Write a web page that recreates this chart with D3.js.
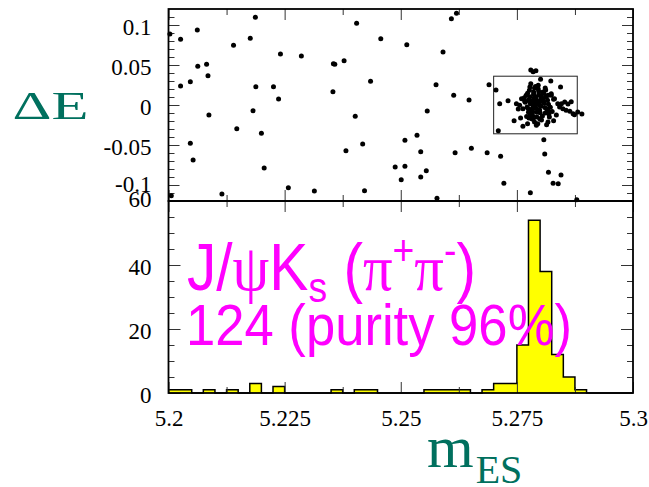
<!DOCTYPE html>
<html>
<head>
<meta charset="utf-8">
<script src="https://cdn.jsdelivr.net/npm/d3@7"></script>
<style>
  html, body { margin: 0; padding: 0; background: #fff; }
  svg { display: block; }
</style>
</head>
<body>
<svg id="chart" width="649" height="487"></svg>
<script>
// ---- Data -----------------------------------------------------------------
// Candidates spread over the whole (mES, ΔE) plane: [mES (GeV), ΔE (GeV)]
const sidebandEvents = [
  [5.2187, 0.1096], [5.2062, 0.0938], [5.2003, 0.0888], [5.2026, 0.0821], [5.2176, 0.0834],
  [5.2140, 0.0746], [5.2241, 0.0638], [5.2286, 0.0613], [5.2063, 0.0484], [5.2082, 0.0509],
  [5.2085, 0.0366], [5.2026, 0.0238], [5.2047, 0.0291], [5.2188, 0.0229], [5.2226, 0.0229],
  [5.2237, 0.0075], [5.2182, -0.0071], [5.2087, -0.0125], [5.2147, -0.0296], [5.2200, -0.0354],
  [5.2047, -0.0479], [5.2053, -0.0688], [5.2206, -0.0788], [5.2258, -0.1034], [5.2314, -0.1075],
  [5.2006, -0.1134], [5.2115, -0.1113],
  [5.2620, 0.1146], [5.2609, 0.1079], [5.2405, 0.1021], [5.2457, 0.0829], [5.2513, 0.0754],
  [5.2591, 0.0663], [5.2355, 0.0516], [5.2358, 0.0509], [5.2378, 0.0554], [5.2435, 0.0296],
  [5.2354, 0.0166], [5.2576, 0.0254], [5.2690, 0.0254], [5.2614, 0.0121], [5.2647, 0.0063],
  [5.2557, -0.0075], [5.2402, -0.0141], [5.2535, -0.0379], [5.2509, -0.0441], [5.2418, -0.0488],
  [5.2382, -0.0571], [5.2543, -0.0584], [5.2617, -0.0596], [5.2652, -0.0541], [5.2686, -0.0596],
  [5.2488, -0.0775], [5.2509, -0.0766], [5.2555, -0.0821], [5.2501, -0.0934], [5.2543, -0.0900],
  [5.2422, -0.1071], [5.2578, -0.1166],
  [5.2780, 0.0438], [5.2785, 0.0416], [5.2791, 0.0429], [5.2705, 0.0188], [5.2713, 0.0016],
  [5.2731, 0.0054], [5.2801, 0.0321], [5.2823, 0.0300], [5.2844, 0.0225], [5.2867, 0.0041],
  [5.2890, -0.0113], [5.2710, -0.0321], [5.2808, -0.0434], [5.2810, -0.0613], [5.2715, -0.0641],
  [5.2818, -0.0841], [5.2845, -0.0875], [5.2828, -0.0979], [5.2839, -0.0984], [5.2722, -0.0979],
  [5.2779, -0.1096], [5.2879, -0.1184]
];

// Candidates in the B-signal peak
const peakEvents = [
  [5.2781, 0.0012], [5.2788, -0.0035], [5.2795, 0.0041], [5.2776, 0.0068], [5.2802, -0.0012],
  [5.2809, 0.0025], [5.2784, -0.0081], [5.2791, 0.0097], [5.2772, -0.0024], [5.2799, -0.0063],
  [5.2814, -0.0047], [5.2786, 0.0134], [5.2779, -0.0118], [5.2806, 0.0072], [5.2793, -0.0149],
  [5.2768, 0.0033], [5.2818, 0.0009], [5.2797, 0.0168], [5.2783, 0.0051], [5.2790, -0.0008],
  [5.2775, -0.0092], [5.2811, -0.0101], [5.2787, 0.0089], [5.2801, 0.0117], [5.2794, -0.0052],
  [5.2778, 0.0104], [5.2822, -0.0028], [5.2789, 0.0022], [5.2805, -0.0137], [5.2773, 0.0147],
  [5.2816, 0.0058], [5.2782, -0.0171], [5.2798, 0.0003], [5.2792, 0.0063], [5.2780, -0.0057],
  [5.2808, 0.0143], [5.2785, -0.0026], [5.2826, -0.0082], [5.2771, -0.0145], [5.2796, 0.0201],
  [5.2803, -0.0186], [5.2777, 0.0185], [5.2813, 0.0104], [5.2788, -0.0211], [5.2820, -0.0151],
  [5.2766, 0.0092], [5.2799, 0.0036], [5.2783, -0.0104], [5.2807, 0.0047], [5.2790, 0.0231],
  [5.2829, 0.0071], [5.2774, -0.0044], [5.2817, -0.0069], [5.2786, 0.0162], [5.2800, -0.0098],
  [5.2795, -0.0234], [5.2812, 0.0186], [5.2779, 0.0019], [5.2824, 0.0122], [5.2804, 0.0091],
  [5.2744, -0.0196], [5.2758, -0.0163], [5.2763, -0.0266], [5.2776, -0.0163], [5.2814, -0.0246],
  [5.2874, -0.0121], [5.2864, -0.0079], [5.2838, 0.0016], [5.2780, 0.0266], [5.2788, 0.0213],
  [5.2842, -0.0025], [5.2849, -0.0046], [5.2856, -0.0066], [5.2871, -0.0109],
  [5.2785, -0.0179], [5.2799, -0.0171], [5.2792, -0.0254], [5.2817, -0.0213], [5.2773, -0.0234],
  [5.2778, 0.0225], [5.2796, 0.0246], [5.2806, 0.0163], [5.2817, 0.0121], [5.2824, 0.0141],
  [5.2831, 0.0079], [5.2846, 0.0016], [5.2853, 0.0038], [5.2860, 0.0012],
  [5.2749, 0.0016], [5.2756, -0.0004], [5.2763, -0.0046], [5.2753, -0.0051], [5.2767, 0.0046],
  [5.2760, 0.0079], [5.2881, -0.0088], [5.2835, -0.0124], [5.2829, -0.0196], [5.2770, 0.0121],
  [5.2811, 0.0211], [5.2787, 0.0041], [5.2801, 0.0064], [5.2793, -0.0091], [5.2819, -0.0112],
  [5.2784, -0.0139], [5.2810, -0.0031], [5.2797, 0.0128], [5.2775, 0.0057]
];

// Signal-region box
const boxM  = [5.270, 5.288];
const boxDE = [-0.036, 0.036];

// mES projection: 40 bins of 2.5 MeV starting at 5.2 GeV
const binLow = 5.2;
const binWidth = 0.0025;
const binCounts = [
  1, 1, 0, 1, 0, 1, 0, 3, 0, 2,
  0, 0, 0, 0, 1, 0, 1, 1, 0, 0,
  0, 0, 1, 1, 1, 1, 0, 1, 3, 3,
  15, 54, 38, 12, 5, 1, 0, 0, 0, 0
];

// Axis ticks
const mMajor = [5.2, 5.225, 5.25, 5.275, 5.3];
const mTickLabels = ["5.2", "5.225", "5.25", "5.275", "5.3"];
const mMinor = [5.2125, 5.2375, 5.2625, 5.2875];
const deMajor = [-0.1, -0.05, 0, 0.05, 0.1];
const deTickLabels = ["-0.1", "-0.05", "0", "0.05", "0.1"];
const deMinor = [-0.11, -0.09, -0.08, -0.07, -0.06, -0.04, -0.03, -0.02, -0.01,
                 0.01, 0.02, 0.03, 0.04, 0.06, 0.07, 0.08, 0.09, 0.11];
const nMajor = [0, 20, 40, 60];
const nTickLabels = ["0", "20", "40", "60"];
const nMinor = [5, 10, 15, 25, 30, 35, 45, 50, 55];

// ---- Layout ---------------------------------------------------------------
const svg = d3.select("#chart");
const serif = "'Liberation Serif', 'Times New Roman', serif";
const sans = "'Liberation Sans', Arial, Helvetica, sans-serif";
const teal = "#00705e";

const x = d3.scaleLinear().domain([5.2, 5.3]).range([168.5, 633]);
const yDE = d3.scaleLinear().domain([-0.12, 0.12]).range([201, 9]);
const yN = d3.scaleLinear().domain([0, 60]).range([393, 201]);

const [xL, xR] = x.range();

// ---- Histogram ------------------------------------------------------------
const bins = binCounts.map((c, i) => ({ x0: binLow + i * binWidth, x1: binLow + (i + 1) * binWidth, n: c }));
const stepPts = [];
bins.forEach(b => { stepPts.push([b.x0, b.n]); stepPts.push([b.x1, b.n]); });

const area = d3.area().x(d => x(d[0])).y0(yN(0)).y1(d => yN(d[1]));
const line = d3.line().x(d => x(d[0])).y(d => yN(d[1]));

svg.append("path").attr("d", area(stepPts)).attr("fill", "#ffff00").attr("stroke", "none");
svg.append("path").attr("d", line(stepPts)).attr("fill", "none")
  .attr("stroke", "#000").attr("stroke-width", 1.5);

// ---- Axes -----------------------------------------------------------------
function addAxis(axis, transform, labelled) {
  const g = svg.append("g").attr("transform", transform).call(axis);
  g.select(".domain").remove();
  g.selectAll(".tick line").attr("stroke", "#333").attr("stroke-width", 1);
  g.attr("font-family", serif).attr("font-size", 23);
  if (!labelled) g.selectAll(".tick text").remove();
  else g.selectAll(".tick text").attr("fill", "#000");
  return g;
}
const blank = () => "";

// upper panel
addAxis(d3.axisLeft(yDE).tickValues(deMinor).tickSize(-6).tickFormat(blank), `translate(${xL},0)`, false);
addAxis(d3.axisLeft(yDE).tickValues(deMajor).tickSize(-11).tickPadding(17)
  .tickFormat((d, i) => deTickLabels[i]), `translate(${xL},0)`, true)
  .selectAll(".tick text").attr("dy", d => d === -0.1 ? "0.3em" : "0.42em");
addAxis(d3.axisRight(yDE).tickValues(deMinor).tickSize(-6).tickFormat(blank), `translate(${xR},0)`, false);
addAxis(d3.axisRight(yDE).tickValues(deMajor).tickSize(-11).tickFormat(blank), `translate(${xR},0)`, false);
addAxis(d3.axisTop(x).tickValues(mMinor).tickSize(-6).tickFormat(blank), `translate(0,${yDE.range()[1]})`, false);
addAxis(d3.axisTop(x).tickValues(mMajor).tickSize(-11).tickFormat(blank), `translate(0,${yDE.range()[1]})`, false);
addAxis(d3.axisBottom(x).tickValues(mMinor).tickSize(-6).tickFormat(blank), `translate(0,${yDE.range()[0]})`, false);
addAxis(d3.axisBottom(x).tickValues(mMajor).tickSize(-11).tickFormat(blank), `translate(0,${yDE.range()[0]})`, false);

// lower panel
addAxis(d3.axisLeft(yN).tickValues(nMinor).tickSize(-6).tickFormat(blank), `translate(${xL},0)`, false);
addAxis(d3.axisLeft(yN).tickValues(nMajor).tickSize(-12).tickPadding(17)
  .tickFormat((d, i) => nTickLabels[i]), `translate(${xL},0)`, true)
  .selectAll(".tick text").attr("dy", d => d === 60 ? "0.26em" : "0.42em");
addAxis(d3.axisRight(yN).tickValues(nMinor).tickSize(-6).tickFormat(blank), `translate(${xR},0)`, false);
addAxis(d3.axisRight(yN).tickValues(nMajor).tickSize(-12).tickFormat(blank), `translate(${xR},0)`, false);
addAxis(d3.axisTop(x).tickValues(mMinor).tickSize(-6).tickFormat(blank), `translate(0,${yN.range()[1]})`, false);
addAxis(d3.axisTop(x).tickValues(mMajor).tickSize(-11).tickFormat(blank), `translate(0,${yN.range()[1]})`, false);
addAxis(d3.axisBottom(x).tickValues(mMinor).tickSize(-6).tickFormat(blank), `translate(0,${yN.range()[0]})`, false);
addAxis(d3.axisBottom(x).tickValues(mMajor).tickSize(-11).tickPadding(17)
  .tickFormat((d, i) => mTickLabels[i]), `translate(0,${yN.range()[0]})`, true);

// ---- Frames ---------------------------------------------------------------
[[yDE.range()[1], yDE.range()[0]], [yN.range()[1], yN.range()[0]]].forEach(([t, b]) => {
  svg.append("rect").attr("x", xL).attr("y", t).attr("width", xR - xL).attr("height", b - t)
    .attr("fill", "none").attr("stroke", "#000").attr("stroke-width", 1.8);
});

// ---- Scatter --------------------------------------------------------------
svg.append("rect")
  .attr("x", x(boxM[0])).attr("y", yDE(boxDE[1]))
  .attr("width", x(boxM[1]) - x(boxM[0])).attr("height", yDE(boxDE[0]) - yDE(boxDE[1]))
  .attr("fill", "none").attr("stroke", "#222").attr("stroke-width", 1);

svg.append("g").selectAll("circle")
  .data(sidebandEvents.concat(peakEvents))
  .join("circle")
  .attr("cx", d => x(d[0])).attr("cy", d => yDE(d[1])).attr("r", 2.5).attr("fill", "#000");

// ---- Titles ---------------------------------------------------------------
svg.append("text").attr("x", 12.5).attr("y", 118.5)
  .attr("font-family", serif).attr("font-size", 39).attr("fill", teal)
  .attr("textLength", 76).attr("lengthAdjust", "spacingAndGlyphs")
  .text("ΔE");

const mes = svg.append("text").attr("x", 427).attr("y", 466.7)
  .attr("font-family", serif).attr("font-size", 60).attr("fill", teal);
mes.append("tspan").text("m");
mes.append("tspan").attr("font-size", 40).attr("dx", 2).attr("dy", 16.3).text("ES");

// decay-mode caption
function fitWidth(sel, x0, target) {
  const w = sel.node().getBBox().width;
  sel.attr("transform", `translate(${x0},0) scale(${target / w},1) translate(${-x0},0)`);
}
const magenta = "#ff00ff";
const cap1 = svg.append("text").attr("x", 187).attr("y", 290)
  .attr("font-family", sans).attr("font-size", 66).attr("fill", magenta);
cap1.append("tspan").text("J/");
cap1.append("tspan").attr("font-family", serif).text("ψ");
cap1.append("tspan").text("K");
cap1.append("tspan").attr("font-size", 42).attr("dy", 12).text("s");
cap1.append("tspan").attr("dy", -12).text(" (");
cap1.append("tspan").attr("font-family", serif).text("π");
cap1.append("tspan").attr("font-size", 42).attr("dy", -25).text("+");
cap1.append("tspan").attr("font-family", serif).attr("dy", 25).text("π");
cap1.append("tspan").attr("font-size", 42).attr("dy", -25).text("-");
cap1.append("tspan").attr("dy", 25).text(")");
fitWidth(cap1, 187, 289);

const cap2 = svg.append("text").attr("x", 186).attr("y", 345)
  .attr("font-family", sans).attr("font-size", 58).attr("fill", magenta)
  .text("124 (purity 96%)");
fitWidth(cap2, 186, 386);
</script>
</body>
</html>
